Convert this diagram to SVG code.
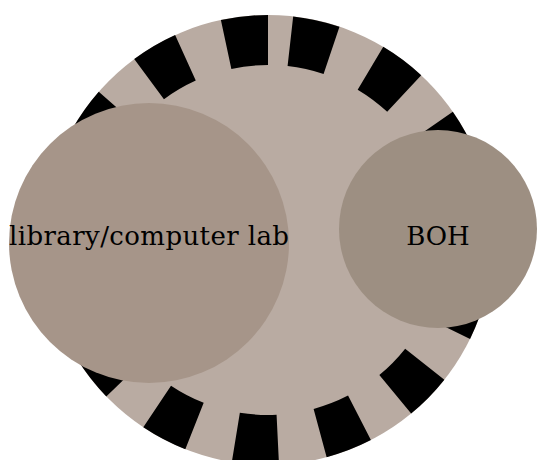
<svg xmlns="http://www.w3.org/2000/svg" width="537" height="460" viewBox="0 0 537 460">
  <style>
    .label { font-family: "DejaVu Serif", "Liberation Serif", serif; font-size: 26px; fill: #000; text-anchor: middle; }
  </style>
  <rect width="537" height="460" fill="#ffffff"/>
  <g id="container">
    <circle cx="268" cy="240" r="225" fill="#b9aba2"/>
    <path d="M268,40 A200,200 0 0 0 268,440 A200,200 0 0 0 268,40" fill="none" stroke="#000" stroke-width="50" pathLength="360" stroke-dasharray="12.1 12.29"/>
  </g>
  <g id="connectors"/>
  <g id="node-library">
    <circle cx="149" cy="243" r="140" fill="#a69589"/>
    <text class="label" x="149" y="245" textLength="280" lengthAdjust="spacing">library/computer lab</text>
  </g>
  <g id="node-boh">
    <circle cx="438" cy="229" r="99" fill="#9d8f82"/>
    <text class="label" x="438" y="245">BOH</text>
  </g>
</svg>
